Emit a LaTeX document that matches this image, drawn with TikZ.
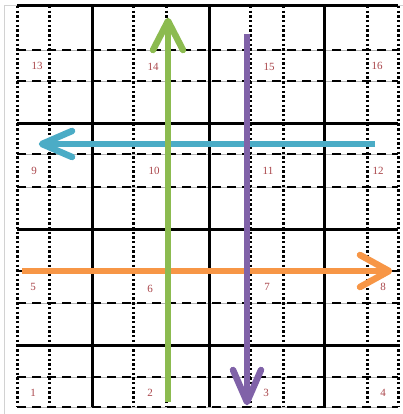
\documentclass[tikz,border=0pt]{standalone}
\usepackage{fontspec}
\setmainfont{Liberation Serif}
\definecolor{agreen}{RGB}{140,187,80}
\definecolor{apurple}{RGB}{128,98,168}
\definecolor{acyan}{RGB}{75,172,198}
\definecolor{aorange}{RGB}{247,150,70}
\definecolor{lbl}{RGB}{170,70,75}
\begin{document}
\begin{tikzpicture}[x=1pt,y=-1pt,
 solidline/.style={line width=3pt, black},
 dotline/.style={line width=3pt, black, dash pattern=on 2.4pt off 2.3pt},
 dashline/.style={line width=2.8pt, black, dash pattern=on 9pt off 6pt},
 thinline/.style={line width=0.5pt, gray!60},
 shaft/.style={line width=6.5pt},
 head/.style={line width=6.5pt, line cap=round, line join=round},
 lab/.style={text=lbl, font=\fontsize{11}{11}\selectfont, inner sep=0pt}]
\useasboundingbox (0,0) rectangle (403,414);
\fill[white] (0,0) rectangle (403,414);
\draw[gray!35, line width=0.8pt] (4,414) -- (4,5) -- (403,5);
\foreach \y in {50,81,154,187,271,303,377,407} {
  \draw[thinline] (17,\y) -- (398,\y);
  \draw[dashline] (17,\y) -- (398,\y);
}
\foreach \x in {17,49,133,166,250,283,367,398}
  \draw[dotline] (\x,6) -- (\x,407);
\foreach \x in {92,209,324}
  \draw[solidline] (\x,6) -- (\x,407);
\foreach \y in {6,124,229,345}
  \draw[solidline] (17,\y) -- (398,\y);
% labels
\foreach \n/\x/\y in {13/37/66,14/153/67,15/269/67,16/377/66,
  9/34/171,10/154/171,11/268/171,12/378/171,
  5/33/287,6/150/289,7/267/287,8/383/287,
  1/33/393,2/150/393,3/266/393,4/383/393}
  \node[lab] (l\n) at (\x,\y) {\n};
% cyan arrow
\coordinate (cs) at (375,144);
\coordinate (ct) at (42,144);
\coordinate (cw1) at (72,131);
\coordinate (cw2) at (72,157);
\draw[shaft, acyan] (cs) -- (ct);
\draw[head, acyan] (cw1) -- (ct) -- (cw2);
% orange arrow
\coordinate (os) at (22,271);
\coordinate (ot) at (389,271);
\coordinate (ow1) at (360,255);
\coordinate (ow2) at (360,287);
\draw[shaft, aorange] (os) -- (ot);
\draw[head, aorange] (ow1) -- (ot) -- (ow2);
% green arrow
\coordinate (gs) at (168,402);
\coordinate (gt) at (168,21);
\coordinate (gw1) at (153,50);
\coordinate (gw2) at (183,50);
\draw[shaft, agreen] (gs) -- (gt);
\draw[head, agreen] (gw1) -- (gt) -- (gw2);
% purple arrow
\coordinate (ps) at (247,34);
\coordinate (pt) at (247,402);
\coordinate (pw1) at (233,370);
\coordinate (pw2) at (261,370);
\draw[shaft, apurple] (ps) -- (pt);
\draw[head, apurple] (pw1) -- (pt) -- (pw2);
\end{tikzpicture}
\end{document}
